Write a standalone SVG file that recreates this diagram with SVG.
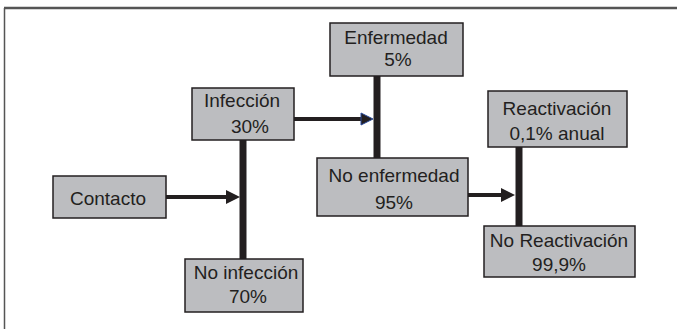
<svg xmlns="http://www.w3.org/2000/svg" width="677" height="329" viewBox="0 0 677 329">
<style>
.box{fill:#bcbdc0;stroke:#231f20;stroke-width:1.5}
.t{font-family:"Liberation Sans",Arial,sans-serif;font-size:19px;fill:#231f20;text-anchor:middle}
.bar{stroke:#231f20;stroke-width:7;fill:none}
.arr{stroke:#231f20;stroke-width:4;fill:none}
</style>
<defs>
<marker id="ah" markerUnits="userSpaceOnUse" markerWidth="14" markerHeight="16" refX="0" refY="8" orient="auto">
<path d="M0,1 L14,8 L0,15 Z" fill="#231f20"/>
</marker>
<marker id="ahb" markerUnits="userSpaceOnUse" markerWidth="15" markerHeight="16" refX="1" refY="8" orient="auto">
<path d="M1,2 L13,8 L1,14 Z" fill="#231f20" stroke="#2a4a9a" stroke-width="1"/>
</marker>
</defs>
<g id="frame">
<line x1="4" y1="8" x2="677" y2="8" stroke="#555" stroke-width="2.5"/>
<line x1="4.5" y1="8" x2="4.5" y2="329" stroke="#555" stroke-width="1.5"/>
</g>
<g id="connectors">
<line class="bar" x1="243" y1="140" x2="243" y2="259"/>
<line class="bar" x1="377" y1="76" x2="377" y2="158"/>
<line class="bar" x1="519" y1="147" x2="519" y2="226"/>
<line class="arr" x1="160" y1="197" x2="226" y2="197" marker-end="url(#ah)"/>
<line class="arr" x1="294" y1="119" x2="361" y2="119" marker-end="url(#ahb)"/>
<line class="arr" x1="434" y1="195" x2="501" y2="195" marker-end="url(#ah)"/>
</g>
<g id="contacto">
<rect class="box" x="53" y="176" width="113" height="42"/>
<text class="t" x="108" y="205">Contacto</text>
</g>
<g id="infeccion">
<rect class="box" x="192" y="88" width="102" height="52"/>
<text class="t" x="242" y="107">Infección</text>
<text class="t" x="250" y="133">30%</text>
</g>
<g id="no-infeccion">
<rect class="box" x="185" y="259" width="118" height="53"/>
<text class="t" x="246" y="279">No infección</text>
<text class="t" x="248" y="303">70%</text>
</g>
<g id="enfermedad">
<rect class="box" x="330" y="23" width="133" height="53"/>
<text class="t" x="396" y="44">Enfermedad</text>
<text class="t" x="398" y="66">5%</text>
</g>
<g id="no-enfermedad">
<rect class="box" x="317" y="158" width="151" height="58"/>
<text class="t" x="394" y="182">No enfermedad</text>
<text class="t" x="394" y="209">95%</text>
</g>
<g id="reactivacion">
<rect class="box" x="488" y="91" width="139" height="56"/>
<text class="t" x="557" y="115">Reactivación</text>
<text class="t" x="557" y="140">0,1% anual</text>
</g>
<g id="no-reactivacion">
<rect class="box" x="484" y="226" width="151" height="51"/>
<text class="t" x="559" y="247">No Reactivación</text>
<text class="t" x="559" y="271">99,9%</text>
</g>
</svg>
